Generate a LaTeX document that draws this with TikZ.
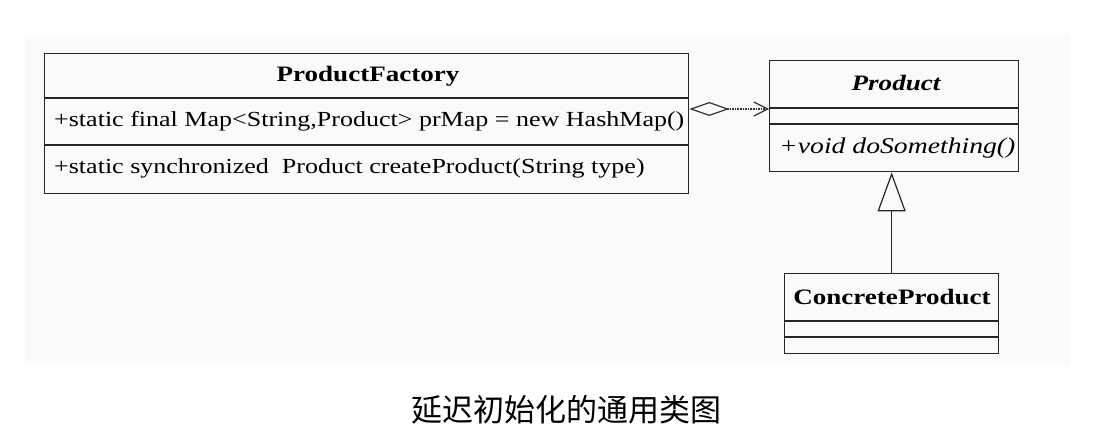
\documentclass[tikz,border=0pt]{standalone}
\usepackage{fontspec}
\setmainfont{Liberation Serif}
\newfontfamily\umlfont[FakeStretch=1.21]{Liberation Serif}
\newfontfamily\umlnamefont[FakeStretch=1.23]{Liberation Serif}
\newfontfamily\cjk{Noto Sans CJK SC}
\usetikzlibrary{arrows.meta}
\begin{document}
\begin{tikzpicture}[x=1pt,y=-1pt,
  umlbox/.style={draw=black!85, line width=1.3pt, inner sep=0pt, anchor=north west},
  divider/.style={draw=black!85, line width=1.3pt},
  member/.style={inner sep=0pt, anchor=west, font=\umlfont\fontsize{21.5}{25}\selectfont},
  cname/.style={inner sep=0pt, font=\umlnamefont\fontsize{22}{25}\selectfont\bfseries}]
\useasboundingbox (0,0) rectangle (1094,444);
\fill[black!2] (25,35) rectangle (1070,365);
% ProductFactory
\node[umlbox, minimum width=644pt, minimum height=140pt] (pf) at (44,53) {};
\draw[divider] (pf.west |- 0,98) -- (pf.east |- 0,98);
\draw[divider] (pf.west |- 0,145) -- (pf.east |- 0,145);
\node[cname] (pfname) at (368,76) {ProductFactory};
\node[member] (pfattr) at (54,121) {+static final Map<String,Product> prMap = new HashMap()};
\node[member] (pfop) at (54,168) {+static synchronized\ \ Product createProduct(String type)};
% Product
\node[umlbox, minimum width=249pt, minimum height=111pt] (pr) at (769,60) {};
\draw[divider] (pr.west |- 0,108) -- (pr.east |- 0,108);
\draw[divider] (pr.west |- 0,124) -- (pr.east |- 0,124);
\node[cname, font=\umlnamefont\fontsize{22}{25}\selectfont\bfseries\itshape] (prname) at (896,83) {Product};
\node[member, font=\umlnamefont\fontsize{22.5}{25}\selectfont\itshape] (prop) at (779,148) {+void doSomething()};
% ConcreteProduct
\node[umlbox, minimum width=214pt, minimum height=80pt] (cp) at (784,273) {};
\draw[divider] (cp.west |- 0,321) -- (cp.east |- 0,321);
\draw[divider] (cp.west |- 0,337) -- (cp.east |- 0,337);
\node[cname] (cpname) at (892,297) {ConcreteProduct};
% connectors
\coordinate (aggS) at (pf.east |- 0,109);
\coordinate (aggE) at (pr.west |- 0,109);
\draw[black!80, densely dotted, line width=1.6pt,
  {Diamond[open, length=40pt, width=14pt, line width=1.2pt]}-{Straight Barb[length=14pt, width=14pt, line width=1.2pt]}]
  (aggS) -- (aggE);
\draw[black!85, line width=1.3pt, -{Triangle[open, length=39pt, width=28pt, line width=1.2pt]}]
  (cp.north) -- (cp.north |- pr.south);
% caption
\node[inner sep=0pt, font=\cjk\fontsize{31}{31}\selectfont] (cap) at (566,410) {延迟初始化的通用类图};
\end{tikzpicture}
\end{document}
